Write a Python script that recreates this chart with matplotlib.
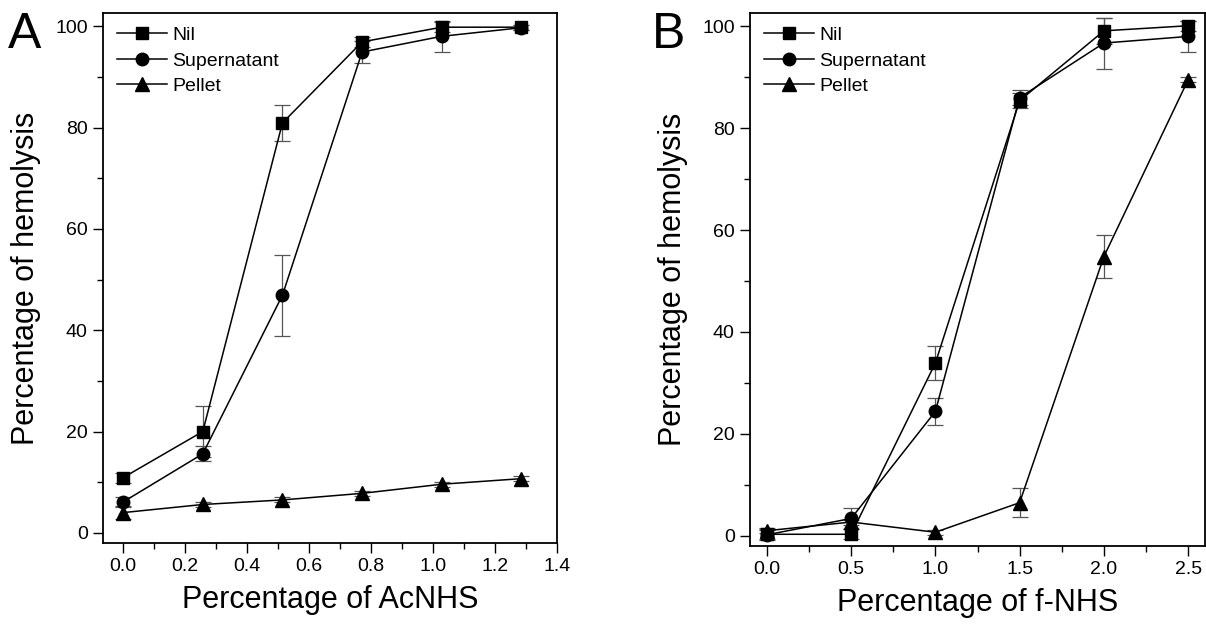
import matplotlib
matplotlib.use("Agg")
import matplotlib.pyplot as plt
from matplotlib.ticker import MultipleLocator, FormatStrFormatter

plt.rcParams['font.family'] = ['Liberation Sans', 'DejaVu Sans']

# panel A: AcNHS
ac_x = [0.0, 0.257, 0.514, 0.771, 1.028, 1.285]
ac_nil = [10.9, 20.0, 80.9, 96.9, 99.8, 99.8]
ac_nil_err = [1.0, 5.0, 3.5, 1.0, 1.0, 0.5]
ac_sup = [6.1, 15.6, 46.9, 94.9, 98.0, 99.7]
ac_sup_err = [1.0, 1.5, 8.0, 2.2, 3.0, 0.5]
ac_pel = [4.0, 5.6, 6.5, 7.8, 9.6, 10.7]
ac_pel_err = [1.3, 0.5, 0.5, 0.5, 0.5, 0.5]

# panel B: f-NHS
f_x = [0.0, 0.5, 1.0, 1.5, 2.0, 2.5]
f_nil = [0.3, 0.3, 33.9, 85.4, 99.1, 100.1]
f_nil_err = [1.0, 1.0, 3.3, 1.5, 2.5, 1.0]
f_sup = [0.2, 3.4, 24.4, 86.0, 96.7, 98.0]
f_sup_err = [1.0, 2.0, 2.7, 1.5, 5.0, 3.0]
f_pel = [1.0, 2.7, 0.7, 6.5, 54.8, 89.5]
f_pel_err = [0.5, 0.5, 0.5, 2.9, 4.3, 0.5]

names = ['Nil', 'Supernatant', 'Pellet']
markers = ['s', 'o', '^']
msizes = [8, 9, 10]

fig = plt.figure(figsize=(12.06, 6.24), dpi=100)
axA = fig.add_axes([103 / 1206, 81 / 624, 454 / 1206, 530 / 624])
axB = fig.add_axes([750 / 1206, 78 / 624, 455 / 1206, 533 / 624])


def draw(ax, x, series, errs, xlabel, xlim, xmaj, xmin, letter, lx):
    for ys, es, name, m, ms in zip(series, errs, names, markers, msizes):
        ax.errorbar(x, ys, yerr=es, fmt='none', ecolor='#555555',
                    elinewidth=0.9, capsize=6, capthick=0.9, zorder=2)
        ax.plot(x, ys, color='black', lw=1.1, marker=m, markersize=ms,
                label=name, zorder=3)
    ax.set_xlim(*xlim)
    ax.set_ylim(-2, 102.6)
    ax.xaxis.set_major_locator(MultipleLocator(xmaj))
    ax.xaxis.set_minor_locator(MultipleLocator(xmin))
    ax.yaxis.set_major_locator(MultipleLocator(20))
    ax.yaxis.set_minor_locator(MultipleLocator(10))
    ax.tick_params(which='major', direction='out', length=7, width=1,
                   labelsize=14, pad=4)
    ax.tick_params(which='minor', direction='out', length=4, width=1)
    ax.xaxis.set_major_formatter(FormatStrFormatter('%.1f'))
    for s in ax.spines.values():
        s.set_linewidth(1.3)
    ax.set_xlabel(xlabel, fontsize=22, labelpad=7)
    ax.set_ylabel('Percentage of hemolysis', fontsize=22, labelpad=10)
    ax.legend(loc='upper left', frameon=False, fontsize=14,
              handlelength=2.6, handletextpad=0.25, labelspacing=0.4,
              borderaxespad=0.3, bbox_to_anchor=(0.0, 1.0))
    fig.text(lx, 0.98, letter, fontsize=36, ha='left', va='top')


draw(axA, ac_x, [ac_nil, ac_sup, ac_pel], [ac_nil_err, ac_sup_err, ac_pel_err],
     'Percentage of AcNHS', (-0.065, 1.4), 0.2, 0.1, 'A', 8 / 1206)
draw(axB, f_x, [f_nil, f_sup, f_pel], [f_nil_err, f_sup_err, f_pel_err],
     'Percentage of f-NHS', (-0.1, 2.6), 0.5, 0.25, 'B', 652 / 1206)

fig.savefig('out.png', dpi=100)
